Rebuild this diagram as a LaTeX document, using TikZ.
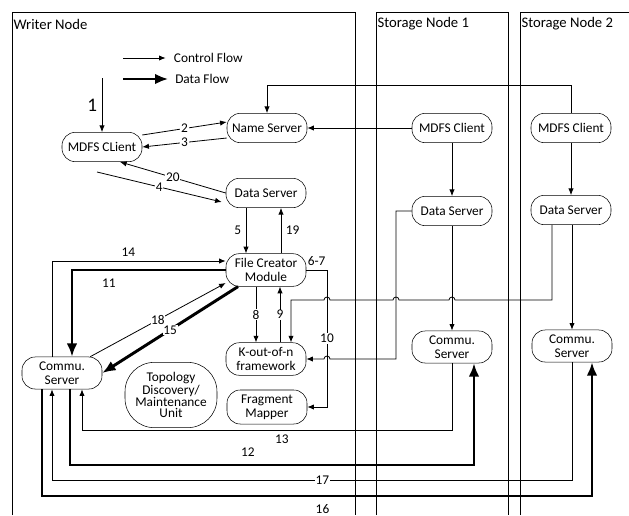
\documentclass[tikz,border=0pt]{standalone}
\usepackage{fontspec}
\setmainfont{Carlito}
\usetikzlibrary{arrows.meta,positioning}
\newcommand{\hopat}[2]{-- (#1+3,#2) arc[start angle=0,end angle=180,radius=2.25pt]}
\tikzset{
  unit/.style={draw, rounded corners=10pt, align=center, inner xsep=2pt, inner ysep=3.5pt,
    minimum width=60pt, minimum height=22pt, font=\fontsize{10}{10.5}\selectfont},
  ctrl/.style={-{Latex[length=5pt,width=4pt]}, line width=0.6pt},
  flow/.style={-{Latex[length=10pt,width=8pt]}, line width=2.2pt},
  num/.style={fill=white, inner sep=0.5pt},
  frame/.style={line width=0.6pt},
  boxtitle/.style={anchor=west, inner sep=1pt, font=\fontsize{11}{13}\selectfont},
}

\begin{document}
\begin{tikzpicture}[x=0.75pt,y=-0.75pt]
\useasboundingbox (0,0) rectangle (629,515);
% containers
\draw[frame] (12,515) |- (355,12) -- (355,515);
\draw[frame] (376,515) |- (508,12) -- (508,515);
\draw[frame] (520,515) |- (629,12);
\node[boxtitle] (wtitle) at (12,24) {Writer Node};
\node[boxtitle] (s1title) at (376,24) {Storage Node 1};
\node[boxtitle] (s2title) at (520,24) {Storage Node 2};
% legend
\coordinate (cf) at (123,58);
\coordinate[right=32pt of cf] (cfend);
\node[right=6pt of cfend, inner sep=0pt] (cftxt) {Control Flow};
\draw[ctrl] (cf) -- (cfend);
\coordinate (df) at (123,79);
\coordinate[right=34pt of df] (dfend);
\node[right=5pt of dfend, inner sep=0pt] (dftxt) {Data Flow};
\draw[flow] (df) -- (dfend);
% writer node
\node[unit] (wclient) at (102,147) {MDFS CLient};
\node[unit] (nameserv) at (267,128) {Name Server};
\node[unit] (wdata) at (266,193) {Data Server};
\node[unit] (fcm) at (266,270) {File Creator\\Module};
\node[unit] (kofn) at (266,359) {K-out-of-n\\framework};
\node[unit] (fragmap) at (267,407) {Fragment\\Mapper};
\node[unit] (wcomm) at (62,373) {Commu.\\Server};
\node[unit, rounded corners=22pt, minimum width=69pt, minimum height=49pt,
  font=\fontsize{10}{8.6}\selectfont] (topo) at (171,395) {Topology\\Discovery/\\Maintenance\\Unit};
% storage nodes
\node[unit] (s1client) at (452,128) {MDFS Client};
\node[unit] (s1data) at (452,211) {Data Server};
\node[unit] (s1comm) at (452,347) {Commu.\\Server};
\node[unit] (s2client) at (571,128) {MDFS Client};
\node[unit] (s2data) at (571,210) {Data Server};
\node[unit] (s2comm) at (572,346) {Commu.\\Server};

\coordinate (in1) at (102,78);
\draw[ctrl] (in1) -- node[left, font=\Large]{1} (wclient);
\draw[ctrl] ([yshift=9pt]wclient.east) -- node[num]{2} ([yshift=4.5pt]nameserv.west);
\draw[ctrl] ([yshift=-7.5pt]nameserv.west) -- node[num]{3} (wclient.east);
\draw[ctrl] (wdata.west) -- node[num]{20} ([xshift=13.5pt]wclient.south);
\coordinate (in4) at (97,172);
\draw[ctrl] (in4) -- node[num]{4} ([xshift=-3pt,yshift=-6.75pt]wdata.west);
\draw[ctrl] (s1client) -- (nameserv);
\draw[ctrl] (s2client.north) |- (nameserv.north |- 0,85) -- (nameserv.north);
\draw[ctrl] (s1client) -- (s1data);
\draw[ctrl] (s2client) -- (s2data);

\draw[ctrl] (246,0 |- wdata.south) -- node[left]{5} (246,0 |- fcm.north);
\draw[ctrl] (281,0 |- fcm.north) -- node[right]{19} (281,0 |- wdata.south);
\draw[ctrl] (52,0 |- wcomm.north) |- node[pos=0.72,above]{14} ([yshift=6.75pt]fcm.west);
\draw[flow] (fcm.west) -| node[pos=0.38,below=2pt]{11} (72,0 |- wcomm.north);
\draw[ctrl] (wcomm.30) -- node[num]{18} ([yshift=-9.75pt]fcm.west);
\draw[flow] ([xshift=-21pt]fcm.south) -- node[num]{15} (wcomm.east);
\draw[ctrl] (fcm.east) -- node[above]{6-7} (327,0 |- fcm.east) -- node[num]{10} (327,0 |- fragmap.east) -- (fragmap.east);
\draw[ctrl] (256,0 |- fcm.south) -- node[num]{8} (256,0 |- kofn.north);
\draw[ctrl] (280,0 |- kofn.north) -- node[num]{9} (280,0 |- fcm.south);

\draw[ctrl] (552,0 |- s2data.south) -- (552,300) \hopat{452}{300} \hopat{396}{300} \hopat{327}{300} -| (291,0 |- kofn.north);
\draw[ctrl] (s1data.west) -| (396,0 |- kofn.east) \hopat{327}{359} -- (kofn.east);
\draw[ctrl] (s1data.south) -- (s1data.south |- s1comm.north);
\draw[ctrl] (s2comm.north |- s2data.south) -- (s2comm.north);

\draw[ctrl] (s1comm.south) |- node[pos=0.73,below]{13} (82,430) -- (82,0 |- wcomm.south);
\draw[flow] (70,0 |- wcomm.south) |- node[pos=0.72,above=2pt]{12} (474,465) -- (474,0 |- s1comm.south);
\draw[ctrl] (s2comm.south) |- node[pos=0.74,num]{17} (52,480) -- (52,0 |- wcomm.south);
\draw[flow] (42,0 |- wcomm.south) |- node[pos=0.755,below=2pt]{16} (592,496) -- (592,0 |- s2comm.south);
\end{tikzpicture}
\end{document}
